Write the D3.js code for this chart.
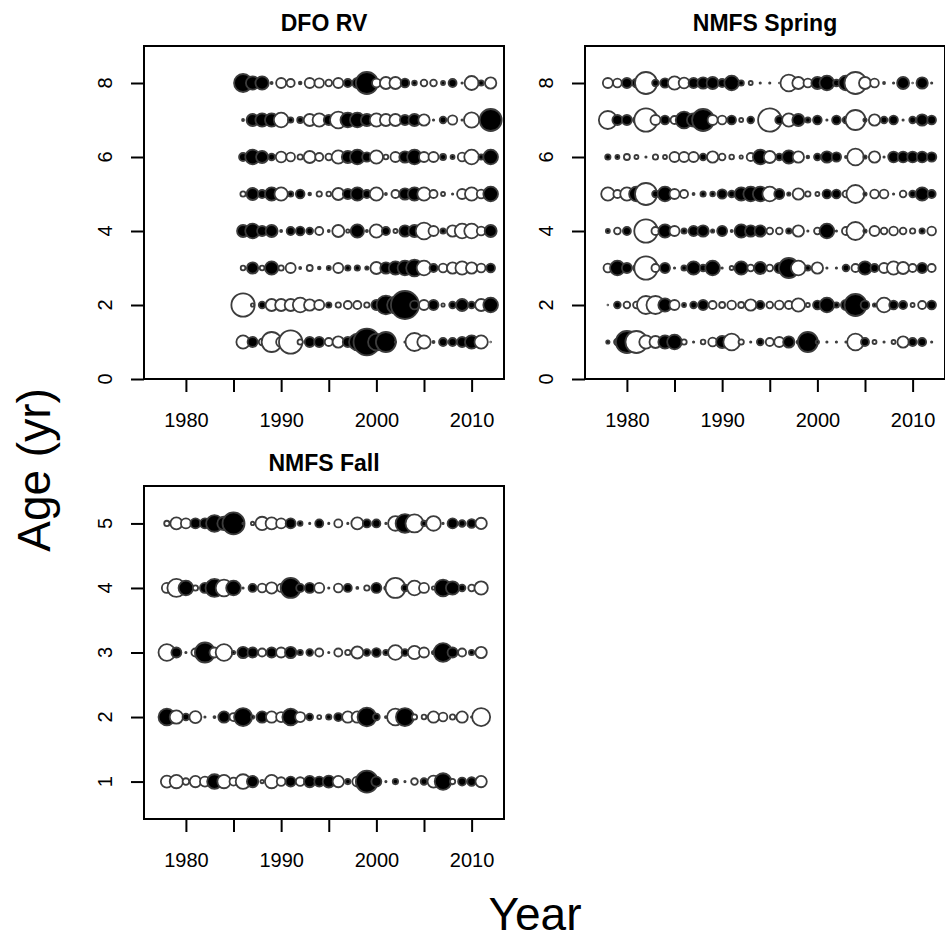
<!DOCTYPE html>
<html>
<head>
<meta charset="utf-8">
<script src="https://cdn.jsdelivr.net/npm/d3@7"></script>
<style>
  body { margin: 0; background: #fff; }
  svg { display: block; }
  text { font-family: "Liberation Sans", Arial, sans-serif; fill: #000; }
</style>
</head>
<body>
<svg id="chart" width="945" height="941"></svg>
<script>
// residuals by age (rows) and year (columns); filled = positive, open = negative
var dfoYears = d3.range(1986, 2013);
var dfoAges = [1, 2, 3, 4, 5, 6, 7, 8];
var dfoResid = [
  [-2.0, 1.5, -1.0, -3.0, -1.5, -3.5, -0.8, 1.5, 1.5, -1.2, -1.7, 1.5, 2.5, 4.0, 2.5, 3.0, 0.2, 0.2, -2.7, -2.0, 0.3, 1.2, 1.2, 1.5, 2.0, -2.0, -0.1],
  [-3.5, -0.5, 1.0, -1.8, -1.8, -1.8, -2.2, -1.7, -1.5, 0.8, -0.8, -1.2, -1.2, -0.8, 1.5, 2.8, 2.5, 4.2, 1.3, -1.5, 1.5, -0.5, 1.0, 1.8, 1.0, -1.8, 2.2],
  [-0.7, 1.7, -0.7, 2.0, -0.8, -1.5, 0.3, -0.9, 0.4, 0.6, -1.5, 0.8, 0.8, 0.5, -1.8, 1.7, 2.0, 2.2, 2.5, -2.2, 1.2, -1.3, -1.7, -2.0, -1.7, -1.3, 1.3],
  [1.8, 2.2, 1.5, 1.8, 0.3, 1.2, 1.3, 1.0, -1.2, 0.3, -1.8, -0.5, 2.0, 0.3, -2.0, 1.2, -0.6, 1.7, 1.8, -2.5, -1.5, 0.8, -1.7, -2.2, -2.2, -1.3, 1.8],
  [-0.8, 1.8, 1.2, 2.0, -2.0, 0.8, 1.3, 0.4, -0.8, -0.7, -1.8, 1.5, 2.0, 1.2, -2.0, 0.3, -1.2, 1.7, 2.0, -2.0, -1.2, -0.6, 0.2, -1.5, -2.0, -1.3, 2.2],
  [1.2, 2.2, 1.8, 1.0, -1.6, -1.3, -0.8, -1.8, -1.2, -1.0, -2.0, 1.8, 2.2, 1.4, -2.0, -0.7, -1.5, 1.7, 2.2, -1.5, -1.5, 0.9, 0.6, -1.3, -2.2, 0.8, 2.2],
  [0.3, 1.8, 2.0, 2.0, -2.2, 0.8, 0.9, -1.8, -2.0, 1.5, -2.5, 2.2, 2.2, 1.8, -2.0, -1.8, -1.8, 1.5, 1.8, -1.7, 0.2, 1.0, -1.4, 0.2, -2.3, -0.5, 3.3],
  [2.7, 2.0, 2.0, 0.3, -1.5, -1.2, 0.4, -1.5, -1.4, -1.0, -1.5, 1.2, 1.5, 3.3, -1.3, -1.8, -1.8, 1.3, 0.7, -1.0, -1.0, 0.6, 1.2, 0.2, -2.1, 0.8, -1.7]
];

var springYears = d3.range(1978, 2013);
var springAges = [1, 2, 3, 4, 5, 6, 7, 8];
var springResid = [
  [0.5, -1.0, 3.3, -3.3, -2.0, -1.8, 2.0, 2.2, -0.8, 0.2, -0.7, -1.3, 1.8, -2.5, -0.8, 0.2, 1.0, -1.2, -1.5, 1.7, 0.5, 3.0, 0.5, 0.2, 0.2, 0.2, -2.5, 1.2, -0.6, 0.2, -0.6, -1.7, 1.2, 1.2, 0.2],
  [0.1, 1.0, -1.0, -1.0, -2.7, -2.7, 2.0, -1.5, 0.6, 1.0, 1.5, -1.2, -0.9, -1.3, -0.9, -1.7, 1.2, -1.0, -1.3, -1.2, -2.0, -0.6, 1.3, 2.2, 0.8, 1.5, 3.3, 1.3, 0.5, -2.2, 1.3, 1.2, -0.6, -1.2, 1.3],
  [-1.3, 2.2, 1.5, -1.0, -3.5, -1.2, 1.5, 0.2, 0.8, 2.0, 1.0, 2.2, 0.2, -0.6, 2.0, -1.0, 1.8, -1.0, 1.5, 3.0, -2.2, 0.8, -1.7, 0.2, 0.2, 1.0, -1.2, 2.0, 1.2, -1.5, -2.0, -1.8, -1.2, 1.5, -1.2],
  [0.6, -1.0, 1.2, 0.5, -3.5, -1.2, 2.0, -1.5, 0.8, 1.5, 1.7, 0.5, 1.5, 0.3, 2.0, 1.7, 1.7, -1.0, -1.0, 0.8, -1.7, 0.2, -1.0, 2.2, 0.2, -1.2, -2.7, 0.5, -1.5, -1.0, -1.3, -1.0, -0.8, 0.8, -1.3],
  [-2.0, -1.2, -2.0, 2.2, -3.3, 1.0, 2.2, -1.5, -1.2, 0.3, 0.8, 0.7, 1.4, 1.0, 2.0, 2.2, 2.2, -2.2, 1.5, 0.5, -1.7, -0.8, -0.6, 1.3, 1.3, -1.0, -2.7, 0.5, -1.3, -1.3, 0.2, -1.0, 1.0, 2.0, 1.2],
  [0.8, 0.6, -0.9, -0.6, 0.2, -0.8, -0.6, -1.5, -1.5, -1.5, 1.0, -1.7, -1.0, -0.7, -0.5, -1.2, 2.2, -1.8, 1.0, 2.0, -1.7, 0.4, 1.0, 1.7, 1.4, 0.3, -2.5, 0.5, -1.7, 0.2, 1.6, 1.6, 1.6, 1.6, 1.4],
  [-2.7, 1.5, 1.5, 1.0, -3.5, -1.5, 1.3, -1.2, 2.5, 2.0, 3.3, -1.5, -1.3, 1.3, -0.6, 1.0, 0.2, -3.5, 1.2, -2.0, 1.8, 0.8, 1.3, 0.2, 1.3, 1.0, -3.0, 0.5, -1.7, 1.0, 1.3, 0.2, 1.0, 1.7, 1.3],
  [-1.5, -1.3, 1.5, 1.3, -3.3, 1.0, 1.4, -2.0, -1.6, 1.5, 1.7, 1.8, 1.2, 2.2, 0.8, -0.6, 0.2, 0.2, 0.1, -2.5, -1.8, -1.3, 1.8, 2.2, 1.0, 2.2, -3.3, -1.8, -1.3, 0.3, 0.2, 1.8, 0.1, 1.7, 0.2]
];

var fallYears = d3.range(1978, 2012);
var fallAges = [1, 2, 3, 4, 5];
var fallResid = [
  [-1.8, -2.0, -1.0, -1.7, -1.5, 2.2, -2.0, -1.2, -2.2, 1.7, -0.5, -2.0, -1.3, 1.5, -1.3, 1.7, 1.5, 1.8, -1.7, 0.8, -1.5, 3.3, 1.5, 0.2, 0.8, 0.2, -1.0, 1.0, -1.8, 2.5, -0.8, 1.2, 1.3, -1.7],
  [2.5, -2.0, 1.0, -1.8, 0.2, 0.3, 1.7, -1.2, 2.7, 0.5, 1.7, -1.7, -1.5, 2.5, -1.5, 1.0, -0.6, 0.8, 1.2, -1.7, -1.7, 2.8, 1.0, 0.3, -2.5, 2.7, -0.8, -0.7, -1.7, -1.3, -0.8, -1.7, -0.2, -2.7],
  [-2.5, 1.5, 0.2, -1.2, 3.0, -1.5, -2.5, 0.5, 1.7, 1.5, -1.2, 1.5, -1.5, 1.7, 0.8, 1.0, -1.2, 0.2, -1.2, -0.8, -1.8, 1.0, 1.3, 0.8, -2.2, 1.0, -2.0, -1.5, 0.5, 2.8, 1.5, -1.2, 0.8, -1.7],
  [-1.5, -2.7, 2.2, -0.8, 1.5, 2.7, -2.5, 2.2, 0.2, 1.2, -1.3, -1.7, -1.2, 3.0, 1.2, 1.5, -1.5, 0.2, -1.3, 1.2, 0.3, -0.8, 1.5, 0.5, -3.0, 1.0, -2.2, -1.5, -0.5, 2.5, 2.0, 1.0, -1.0, -2.0],
  [-0.8, -1.8, -1.5, 1.5, 1.5, 2.5, 2.0, 3.3, 0.2, -0.5, -2.0, -1.8, -1.5, 1.5, 0.7, 0.2, 1.2, 0.2, -1.2, 0.2, -1.8, 1.2, 1.2, 0.2, -2.2, 2.8, -2.7, 0.8, -2.2, 0.2, 1.5, 1.0, 1.3, -1.7]
];

var yearTicks = [1980, 1985, 1990, 1995, 2000, 2005, 2010];

var svg = d3.select("#chart");
var rScale = d3.scaleLinear().domain([0, 4.5]).range([0, 15]);

function drawPanel(title, years, ages, resid, left, top, bottom, yDomain, yTicks) {
  var x = d3.scaleLinear().domain([1975.6, 2013.4]).range([left, left + 360]);
  var y = d3.scaleLinear().domain(yDomain).range([bottom, top]);
  var g = svg.append("g");

  // bubbles
  ages.forEach(function (age, i) {
    g.selectAll(null)
      .data(resid[i].map(function (v, j) { return { year: years[j], age: age, v: v }; }))
      .enter().append("circle")
      .attr("cx", function (d) { return x(d.year); })
      .attr("cy", function (d) { return y(d.age); })
      .attr("r", function (d) { return rScale(Math.abs(d.v)); })
      .attr("fill", function (d) { return d.v > 0 ? "#000" : "#fff"; })
      .attr("stroke", "#3c3c3c")
      .attr("stroke-width", 1.8);
  });

  // box
  g.append("rect")
    .attr("x", left).attr("y", top)
    .attr("width", 360).attr("height", bottom - top)
    .attr("fill", "none").attr("stroke", "#000").attr("stroke-width", 2);

  // x axis
  var xa = g.append("g")
    .attr("transform", "translate(0," + bottom + ")")
    .call(d3.axisBottom(x).tickValues(yearTicks).tickSize(13).tickPadding(21)
      .tickFormat(function (d) { return d % 10 === 0 ? d : ""; }));
  xa.select(".domain").remove();
  xa.selectAll("line").attr("stroke", "#000").attr("stroke-width", 2);
  xa.selectAll("text").attr("font-size", 20).attr("font-family", "Liberation Sans, Arial, sans-serif");

  // y axis, labels rotated like base R
  var ya = g.append("g")
    .attr("transform", "translate(" + left + ",0)")
    .call(d3.axisLeft(y).tickValues(yTicks).tickSize(13).tickFormat(""));
  ya.select(".domain").remove();
  ya.selectAll("line").attr("stroke", "#000").attr("stroke-width", 2);
  g.selectAll(null).data(yTicks).enter().append("text")
    .attr("transform", function (d) { return "translate(" + (left - 32) + "," + y(d) + ") rotate(-90)"; })
    .attr("text-anchor", "middle")
    .attr("font-size", 20)
    .text(function (d) { return d; });

  g.append("text")
    .attr("x", left + 180).attr("y", top - 15)
    .attr("text-anchor", "middle")
    .attr("font-size", 23).attr("font-weight", "bold")
    .text(title);
}

drawPanel("DFO RV", dfoYears, dfoAges, dfoResid, 144, 46, 379, [0, 9], [0, 2, 4, 6, 8]);
drawPanel("NMFS Spring", springYears, springAges, springResid, 585, 46, 379, [0, 9], [0, 2, 4, 6, 8]);
drawPanel("NMFS Fall", fallYears, fallAges, fallResid, 144, 486, 819, [0.42, 5.58], [1, 2, 3, 4, 5]);

svg.append("text")
  .attr("x", 535).attr("y", 930)
  .attr("text-anchor", "middle")
  .attr("font-size", 46)
  .text("Year");

svg.append("text")
  .attr("transform", "translate(50,470) rotate(-90)")
  .attr("text-anchor", "middle")
  .attr("font-size", 46)
  .text("Age (yr)");
</script>
</body>
</html>
